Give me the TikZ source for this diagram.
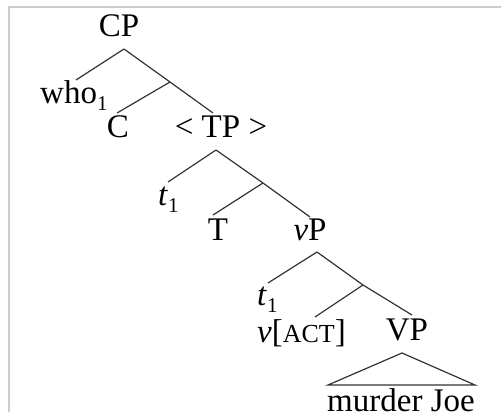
\documentclass[tikz,border=0pt]{standalone}
\usepackage{fontspec}
\setmainfont{Liberation Serif}
\begin{document}
\begin{tikzpicture}[x=1pt,y=-1pt,
  lbl/.style={inner sep=0pt,anchor=base,font=\fontsize{33}{36}\selectfont},
  lblw/.style={inner sep=0pt,anchor=base west,font=\fontsize{33}{36}\selectfont},
  br/.style={draw=black!80,line width=1.2pt},
  frame/.style={draw=black!20,line width=1.5pt}]
\useasboundingbox (0,0) rectangle (501,412);
\newcommand{\subone}{\raisebox{-0.22em}{\fontsize{21}{21}\selectfont 1}}
% frame
\coordinate (fr1) at (501,7);
\coordinate (fr2) at (9,7);
\coordinate (fr3) at (9,412);
\draw[frame] (fr1) -- (fr2) -- (fr3);
% labels
\node[lbl] (cp) at (119,37) {CP};
\node[lblw] (who) at (40,103) {who\subone};
\node[lbl] (c) at (118,137) {C};
\node[lbl] (tp) at (221,137) {< TP >};
\node[lblw] (t1a) at (158,205) {\textit{t}\subone};
\node[lbl] (t) at (218,240) {T};
\node[lbl] (vp) at (310,240) {\textit{v}P};
\node[lblw] (t1b) at (257,305) {\textit{t}\subone};
\node[lblw] (vact) at (257,342) {\textit{v}[{\fontsize{26}{26}\selectfont ACT}]};
\node[lbl] (VP) at (407,340) {VP};
\node[lblw] (mj) at (327,411) {murder Joe};
% branch points
\coordinate (cpA) at (124,49);
\coordinate (whoE) at (76,80);
\coordinate (cbar) at (170,82);
\coordinate (cE) at (117,113);
\coordinate (tpE) at (213,113);
\coordinate (tpA) at (216,150);
\coordinate (t1aE) at (168,182);
\coordinate (tbar) at (263,183);
\coordinate (tE) at (213,215);
\coordinate (vpE) at (310,217);
\coordinate (vpA) at (317,252);
\coordinate (t1bE) at (268,283);
\coordinate (vbar) at (363,285);
\coordinate (vactE) at (315,317);
\coordinate (VPE) at (412,315);
\coordinate (VPA) at (402,353);
\coordinate (triL) at (328,385);
\coordinate (triR) at (475,385);
% branches
\draw[br] (cpA) -- (whoE);
\draw[br] (cpA) -- (cbar) -- (tpE);
\draw[br] (cbar) -- (cE);
\draw[br] (tpA) -- (t1aE);
\draw[br] (tpA) -- (tbar) -- (vpE);
\draw[br] (tbar) -- (tE);
\draw[br] (vpA) -- (t1bE);
\draw[br] (vpA) -- (vbar) -- (VPE);
\draw[br] (vbar) -- (vactE);
\draw[br,line join=miter] (VPA) -- (triL) -- (triR) -- cycle;
\end{tikzpicture}
\end{document}
